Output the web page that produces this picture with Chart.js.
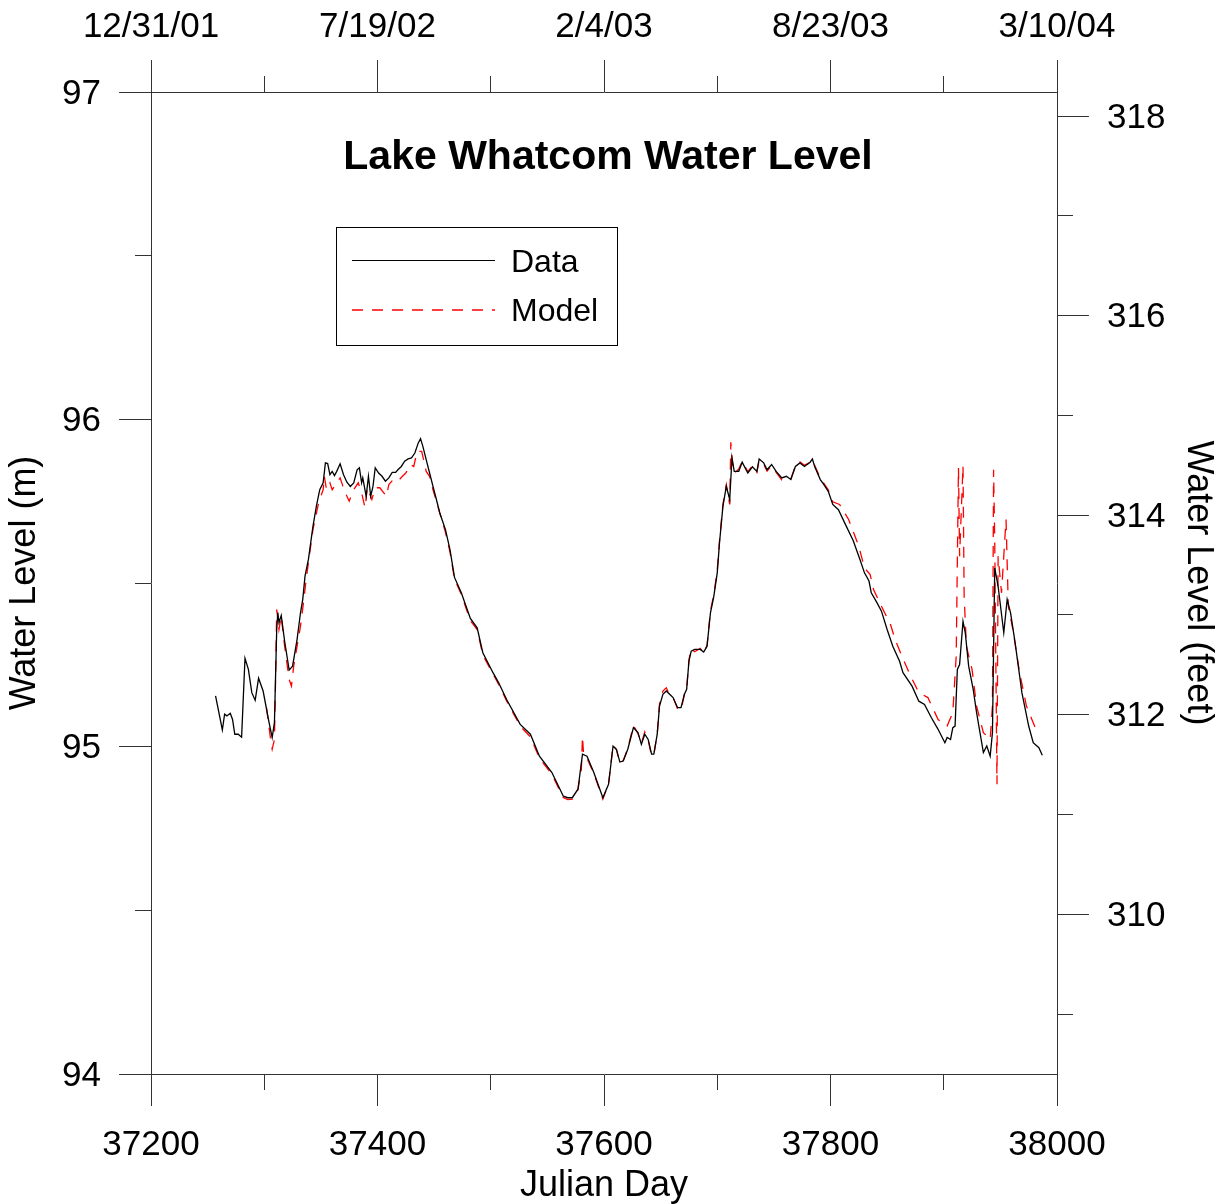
<!DOCTYPE html>
<html>
<head>
<meta charset="utf-8">
<title>Lake Whatcom Water Level</title>
<script src="https://cdn.jsdelivr.net/npm/chart.js@4.4.1/dist/chart.umd.min.js"></script>
<style>
  html, body { margin: 0; padding: 0; background: #fff; }
  #wrap { width: 1225px; height: 1204px; position: relative; }
</style>
</head>
<body>
<div id="wrap"><canvas id="myChart"></canvas></div>
<script>
// ---- data ----
const dataDays = [37257,37263,37265,37267,37270,37272,37274,37277,37280,37283,37286,37289,37292,37295,37299,37304,37307,37309,37311,37312,37313,37315,37318,37322,37325,37329,37332,37334,37336,37339,37343,37346,37349,37352,37354,37356,37358,37360,37362,37364,37367,37370,37373,37376,37379,37382,37384,37386,37387,37390,37392,37394,37396,37398,37401,37404,37407,37410,37413,37416,37418,37421,37424,37427,37430,37433,37436,37438,37440,37443,37446,37449,37452,37455,37460,37464,37468,37474,37482,37488,37493,37502,37507,37514,37526,37535,37543,37554,37564,37568,37572,37577,37581,37585,37591,37599,37604,37608,37611,37614,37617,37621,37626,37630,37633,37636,37639,37642,37644,37647,37649,37652,37655,37658,37661,37665,37668,37671,37673,37675,37677,37680,37685,37688,37691,37694,37697,37700,37702,37705,37708,37711,37713,37715,37719,37722,37727,37731,37735,37737,37741,37744,37748,37752,37757,37761,37765,37769,37773,37777,37782,37784,37786,37791,37794,37798,37802,37807,37814,37820,37826,37830,37834,37836,37841,37845,37850,37855,37861,37864,37872,37878,37883,37889,37895,37901,37903,37906,37908,37910,37912,37914,37917,37919,37922,37926,37929,37932,37935,37938,37941,37943,37945,37948,37953,37956,37959,37963,37969,37975,37979,37984,37987];
const dataLevel = [95.155,95.051,95.099,95.094,95.102,95.083,95.038,95.038,95.029,95.270,95.236,95.165,95.142,95.209,95.170,95.078,95.028,95.074,95.358,95.410,95.379,95.401,95.322,95.234,95.246,95.328,95.409,95.450,95.521,95.572,95.673,95.734,95.785,95.806,95.867,95.865,95.831,95.841,95.828,95.841,95.864,95.831,95.808,95.795,95.806,95.846,95.852,95.806,95.821,95.765,95.826,95.765,95.795,95.852,95.836,95.826,95.811,95.821,95.838,95.838,95.846,95.856,95.872,95.879,95.882,95.897,95.928,95.941,95.918,95.877,95.836,95.795,95.755,95.714,95.663,95.602,95.517,95.470,95.392,95.363,95.287,95.226,95.195,95.144,95.068,95.038,94.971,94.921,94.849,94.844,94.844,94.870,94.977,94.971,94.921,94.844,94.885,95.002,94.992,94.953,94.956,94.992,95.058,95.043,95.007,95.038,95.022,94.977,94.977,95.038,95.124,95.160,95.170,95.160,95.150,95.119,95.119,95.160,95.175,95.261,95.292,95.297,95.297,95.289,95.307,95.409,95.460,95.531,95.623,95.734,95.795,95.755,95.882,95.841,95.841,95.869,95.836,95.855,95.841,95.879,95.867,95.846,95.862,95.841,95.821,95.826,95.816,95.856,95.867,95.856,95.869,95.879,95.856,95.816,95.801,95.780,95.740,95.724,95.673,95.630,95.572,95.531,95.506,95.470,95.440,95.414,95.358,95.307,95.261,95.226,95.185,95.139,95.129,95.089,95.053,95.012,95.028,95.022,95.058,95.063,95.236,95.251,95.383,95.348,95.246,95.175,95.104,95.043,94.982,95.002,94.971,95.043,95.546,95.490,95.348,95.450,95.409,95.318,95.165,95.063,95.012,94.997,94.974];

const modelDays = [37302,37306,37307,37309,37310,37311,37313,37315,37318,37322,37324,37326,37329,37332,37335,37337,37343,37348,37352,37353,37355,37358,37360,37364,37367,37371,37375,37379,37383,37386,37389,37391,37395,37398,37402,37408,37410,37414,37418,37422,37425,37429,37432,37435,37439,37441,37443,37446,37449,37452,37455,37460,37464,37468,37474,37482,37488,37493,37502,37507,37514,37526,37535,37543,37554,37564,37568,37572,37577,37580,37581,37582,37585,37591,37599,37604,37608,37611,37614,37617,37621,37626,37630,37633,37636,37639,37642,37644,37647,37649,37652,37655,37658,37661,37665,37668,37671,37673,37675,37677,37680,37685,37688,37691,37694,37697,37700,37702,37705,37708,37711,37712,37713,37715,37719,37722,37727,37731,37735,37737,37741,37744,37748,37752,37757,37761,37765,37769,37773,37777,37782,37784,37786,37791,37794,37798,37802,37808,37816,37825,37830,37835,37838,37845,37853,37857,37863,37870,37878,37886,37895,37903,37908,37911,37913,37914,37917,37918,37920,37925,37929,37935,37941,37943,37944,37945,37947,37948,37951,37955,37957,37961,37967,37973,37982];
const modelLevel = [95.119,95.012,94.992,95.022,95.205,95.419,95.358,95.399,95.307,95.205,95.185,95.246,95.307,95.368,95.450,95.511,95.663,95.745,95.785,95.826,95.785,95.806,95.785,95.806,95.821,95.780,95.750,95.785,95.806,95.775,95.730,95.791,95.755,95.791,95.791,95.765,95.801,95.816,95.811,95.826,95.836,95.862,95.856,95.902,95.902,95.872,95.841,95.826,95.785,95.750,95.714,95.655,95.595,95.512,95.465,95.385,95.358,95.280,95.222,95.190,95.140,95.063,95.030,94.965,94.915,94.845,94.838,94.840,94.868,94.930,95.032,94.975,94.965,94.918,94.840,94.885,95.005,94.990,94.950,94.958,94.995,95.065,95.040,95.010,95.045,95.020,94.972,94.975,95.040,95.130,95.170,95.180,95.158,95.150,95.115,95.112,95.160,95.178,95.265,95.300,95.290,95.300,95.285,95.310,95.415,95.465,95.540,95.630,95.740,95.800,95.740,95.930,95.880,95.835,95.848,95.872,95.840,95.858,95.838,95.875,95.862,95.842,95.858,95.838,95.815,95.820,95.818,95.858,95.870,95.860,95.868,95.875,95.860,95.820,95.805,95.785,95.748,95.740,95.694,95.612,95.546,95.526,95.480,95.429,95.373,95.328,95.277,95.221,95.165,95.150,95.083,95.063,95.104,95.277,95.852,95.582,95.859,95.460,95.307,95.236,95.124,95.043,95.022,95.124,95.846,95.633,94.885,95.582,95.470,95.694,95.429,95.358,95.226,95.124,95.048];

// tick values and labels
const dayTicks = [37200, 37400, 37600, 37800, 38000];
const dayMinor = [37300, 37500, 37700, 37900];
const dateLabels = ['12/31/01', '7/19/02', '2/4/03', '8/23/03', '3/10/04'];
const meterTicks = [94, 95, 96, 97];
const meterMinor = [94.5, 95.5, 96.5];
const feetTicks = [310, 312, 314, 316, 318];
const feetMinor = [309, 311, 313, 315, 317];
const M_TO_FT = 3.28084;

const axisColor = '#333';
const FONT = '"Liberation Sans", Arial, sans-serif';
const MAJOR = 32, MINOR = 16;

function align(px) { return Math.round(px - 0.5) + 0.5; }

// title, legend, minor ticks
const extras = {
  id: 'extras',
  afterDraw(chart) {
    const ctx = chart.ctx;
    const s = chart.scales;
    ctx.save();
    ctx.strokeStyle = axisColor;
    ctx.lineWidth = 1;
    ctx.beginPath();
    dayMinor.forEach(v => {
      const px = align(s.x.getPixelForValue(v));
      ctx.moveTo(px, s.x.top); ctx.lineTo(px, s.x.top + MINOR);
      ctx.moveTo(px, s.x2.bottom); ctx.lineTo(px, s.x2.bottom - MINOR);
    });
    meterMinor.forEach(v => {
      const py = align(s.y.getPixelForValue(v));
      ctx.moveTo(s.y.right, py); ctx.lineTo(s.y.right - MINOR, py);
    });
    feetMinor.forEach(v => {
      const py = align(s.y2.getPixelForValue(v));
      ctx.moveTo(s.y2.left, py); ctx.lineTo(s.y2.left + MINOR, py);
    });
    ctx.stroke();

    // title
    ctx.fillStyle = '#000';
    ctx.font = 'bold 41px ' + FONT;
    ctx.textAlign = 'center';
    ctx.textBaseline = 'alphabetic';
    ctx.fillText('Lake Whatcom Water Level', 608, 169);

    // legend box
    ctx.strokeStyle = '#000';
    ctx.lineWidth = 1;
    ctx.strokeRect(336.5, 227.5, 281, 118);
    ctx.font = '32px ' + FONT;
    ctx.textAlign = 'left';
    const rows = [260.5, 310];
    const bases = [272, 321];
    chart.data.datasets.forEach((ds, i) => {
      ctx.save();
      ctx.beginPath();
      ctx.strokeStyle = ds.borderColor;
      ctx.lineWidth = i === 0 ? 1 : 1.6;
      ctx.setLineDash(ds.borderDash || []);
      ctx.moveTo(352, rows[i]);
      ctx.lineTo(495, rows[i]);
      ctx.stroke();
      ctx.restore();
      ctx.fillStyle = '#000';
      ctx.fillText(ds.label, 511, bases[i]);
    });
    ctx.restore();
  }
};

const ctx = document.getElementById('myChart').getContext('2d');

const data = {
  datasets: [{
    label: 'Data',
    data: dataDays.map((d, i) => ({ x: d, y: dataLevel[i] })),
    borderColor: 'rgb(0, 0, 0)',
    borderWidth: 1.3,
    pointRadius: 0,
    tension: 0,
    xAxisID: 'x',
    yAxisID: 'y'
  }, {
    label: 'Model',
    data: modelDays.map((d, i) => ({ x: d, y: modelLevel[i] })),
    borderColor: 'rgb(255, 0, 0)',
    borderWidth: 1.3,
    borderDash: [11, 9],
    pointRadius: 0,
    tension: 0,
    xAxisID: 'x',
    yAxisID: 'y'
  }]
};

function tickFont() { return { family: FONT, size: 35 }; }
function gridOpts() {
  return { drawOnChartArea: false, drawTicks: true, tickLength: MAJOR, color: axisColor, tickColor: axisColor, lineWidth: 1 };
}

const myChart = new Chart(ctx, {
  type: 'line',
  data: data,
  plugins: [extras],
  options: {
    responsive: true,
    maintainAspectRatio: false,
    animation: false,
    layout: { padding: 0 },
    plugins: { legend: { display: false }, tooltip: { enabled: false } },
    scales: {
      x: {
        type: 'linear', position: 'bottom', min: 37200, max: 38000,
        afterBuildTicks: sc => { sc.ticks = dayTicks.map(v => ({ value: v })); },
        afterFit: sc => { sc.height = 130; },
        ticks: { font: tickFont(), color: '#000', padding: 18, maxRotation: 0, autoSkip: false, callback: v => String(v) },
        grid: gridOpts(),
        border: { display: true, color: axisColor, width: 1 },
        title: { display: true, text: 'Julian Day', font: { family: FONT, size: 36, lineHeight: 1 }, color: '#000', padding: { top: 0, bottom: 0 } }
      },
      x2: {
        type: 'linear', position: 'top', min: 37200, max: 38000,
        afterBuildTicks: sc => { sc.ticks = dayTicks.map(v => ({ value: v })); },
        afterFit: sc => { sc.height = 92; },
        ticks: { font: tickFont(), color: '#000', padding: 12, maxRotation: 0, autoSkip: false,
          callback: v => dateLabels[dayTicks.indexOf(v)] },
        grid: gridOpts(),
        border: { display: true, color: axisColor, width: 1 }
      },
      y: {
        type: 'linear', position: 'left', min: 94, max: 97,
        afterBuildTicks: sc => { sc.ticks = meterTicks.map(v => ({ value: v })); },
        afterFit: sc => { sc.width = 151; },
        ticks: { font: tickFont(), color: '#000', padding: 18, labelOffset: 2, autoSkip: false, callback: v => String(v) },
        grid: gridOpts(),
        border: { display: true, color: axisColor, width: 1 },
        title: { display: true, text: 'Water Level (m)', font: { family: FONT, size: 36 }, color: '#000', padding: { top: 3, bottom: 0 } }
      },
      y2: {
        type: 'linear', position: 'right', min: 94 * M_TO_FT, max: 97 * M_TO_FT,
        afterBuildTicks: sc => { sc.ticks = feetTicks.map(v => ({ value: v })); },
        afterFit: sc => { sc.width = 168; },
        ticks: { font: tickFont(), color: '#000', padding: 18, labelOffset: 2, autoSkip: false, callback: v => String(v) },
        grid: gridOpts(),
        border: { display: true, color: axisColor, width: 1 },
        title: { display: true, text: 'Water Level (feet)', font: { family: FONT, size: 36 }, color: '#000', padding: { top: 5, bottom: 0 } }
      }
    }
  }
});
</script>
</body>
</html>
